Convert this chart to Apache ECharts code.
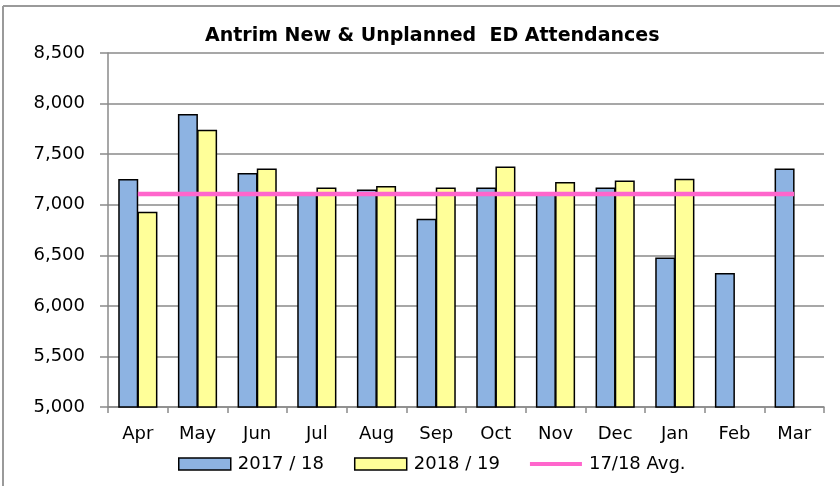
<!DOCTYPE html>
<html>
<head>
<meta charset="utf-8">
<script src="https://cdn.jsdelivr.net/npm/echarts@6/dist/echarts.min.js"></script>
<style>
  html, body { margin: 0; padding: 0; background: #fff; }
  #chart { width: 840px; height: 486px; }
</style>
</head>
<body>
<div id="chart"></div>
<script>
// Monthly ED attendances, Antrim
const months = ['Apr', 'May', 'Jun', 'Jul', 'Aug', 'Sep', 'Oct', 'Nov', 'Dec', 'Jan', 'Feb', 'Mar'];
const att1718 = [7255, 7898, 7313, 7105, 7151, 6862, 7171, 7100, 7171, 6477, 6325, 7359];
const att1819 = [6931, 7741, 7359, 7171, 7184, 7171, 7379, 7224, 7240, 7257, null, null];
const avg1718 = [7105, 7105, 7105, 7105, 7105, 7105, 7105, 7105, 7105, 7105, 7105, 7105];
const yTicks = { min: 5000, max: 8500, step: 500 };

const FONT = 'DejaVu Sans';
const chart = echarts.init(document.getElementById('chart'), null, { renderer: 'canvas' });

chart.setOption({
  animation: false,
  backgroundColor: '#ffffff',
  title: {
    text: 'Antrim New & Unplanned  ED Attendances',
    left: 205,
    top: 27,
    padding: 0,
    textStyle: { fontFamily: FONT, fontWeight: 'bold', fontSize: 19, color: '#000' }
  },
  legend: {
    left: 178,
    top: 455,
    padding: 0,
    itemWidth: 52,
    itemHeight: 12,
    itemGap: 30,
    textStyle: { fontFamily: FONT, fontSize: 18, color: '#000', padding: [0, 0, 0, 2] },
    data: [
      { name: '2017 / 18', icon: 'rect', itemStyle: { borderColor: '#000', borderWidth: 1.5 } },
      { name: '2018 / 19', icon: 'rect', itemStyle: { borderColor: '#000', borderWidth: 1.5 } },
      { name: '17/18 Avg.', icon: 'path://M0,0 L56,0 L56,4.5 L0,4.5 Z', itemStyle: { color: '#ff66cc', borderWidth: 0 } }
    ]
  },
  grid: { left: 108, right: 16, top: 53, bottom: 79 },
  xAxis: {
    type: 'category',
    data: months,
    boundaryGap: true,
    axisLine: { lineStyle: { color: '#8a8a8a', width: 1.5 } },
    axisTick: { show: true, length: 6, lineStyle: { color: '#8a8a8a', width: 1.5 } },
    axisLabel: { fontFamily: FONT, fontSize: 18, color: '#000', margin: 18 },
    splitLine: { show: false }
  },
  yAxis: {
    type: 'value',
    min: yTicks.min,
    max: yTicks.max,
    interval: yTicks.step,
    axisLine: { show: true, lineStyle: { color: '#8a8a8a', width: 1.5 } },
    axisTick: { show: true, length: 8, lineStyle: { color: '#8a8a8a', width: 1.5 } },
    axisLabel: {
      fontFamily: FONT, fontSize: 18, color: '#000', margin: 23,
      formatter: v => v.toLocaleString('en-US')
    },
    splitLine: { show: true, lineStyle: { color: '#8a8a8a', width: 1.5 } }
  },
  series: [
    {
      name: '2017 / 18',
      type: 'bar',
      data: att1718,
      barWidth: 20,
      barGap: '-4%',
      itemStyle: { color: '#8db3e2', borderColor: '#000', borderWidth: 1.5 }
    },
    {
      name: '2018 / 19',
      type: 'bar',
      data: att1819,
      barWidth: 20,
      barGap: '-4%',
      itemStyle: { color: '#ffff99', borderColor: '#000', borderWidth: 1.5 }
    },
    {
      name: '17/18 Avg.',
      type: 'line',
      data: avg1718,
      symbol: 'none',
      z: 5,
      itemStyle: { color: '#ff66cc' },
      lineStyle: { color: '#ff66cc', width: 4.5 }
    }
  ],
  graphic: [
    { type: 'line', shape: { x1: 3, y1: 6, x2: 840, y2: 6 }, style: { stroke: '#9a9a9a', lineWidth: 2 } },
    { type: 'line', shape: { x1: 3, y1: 6, x2: 3, y2: 486 }, style: { stroke: '#9a9a9a', lineWidth: 2 } }
  ]
});
</script>
</body>
</html>
